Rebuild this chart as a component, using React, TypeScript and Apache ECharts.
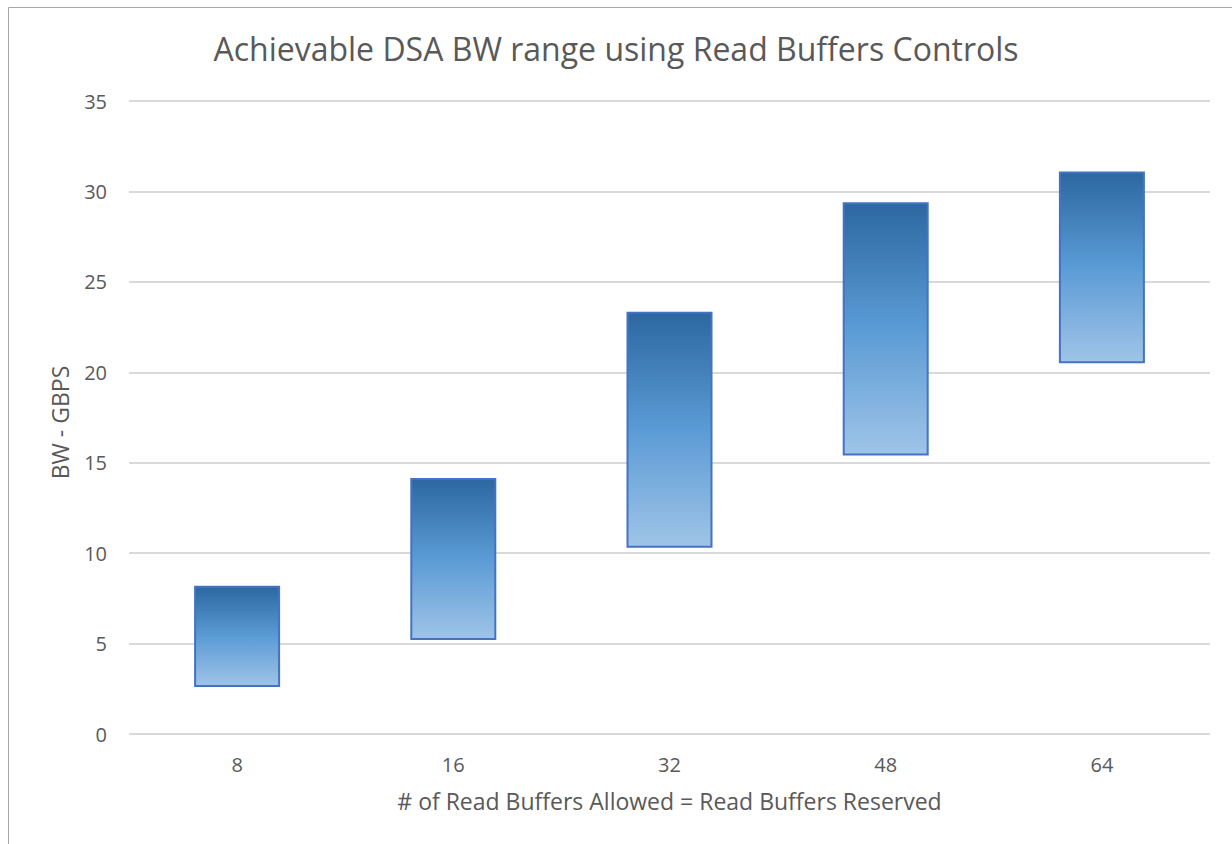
import React, { useEffect, useRef } from "react";
import * as echarts from "echarts";

const categories = ["8", "16", "32", "48", "64"];
const lowValues = [2.6, 5.2, 10.3, 15.4, 20.5];
const highValues = [8.2, 14.15, 23.35, 29.4, 31.1];
const yTicks = { min: 0, max: 35, interval: 5 };

const FONT = "'Open Sans', sans-serif";
const TEXT = "#595959";

export default function App() {
  const ref = useRef<HTMLDivElement>(null);
  useEffect(() => {
    if (!ref.current) return;
    const chart = echarts.init(ref.current, undefined, { renderer: "svg" });
    const spans = highValues.map((h, i) => +(h - lowValues[i]).toFixed(2));
    chart.setOption({
      animation: false,
      backgroundColor: "#ffffff",
      title: {
        text: "Achievable DSA BW range using Read Buffers Controls",
        left: "center",
        top: 27,
        textStyle: { fontFamily: FONT, fontSize: 32, fontWeight: "normal", color: TEXT },
      },
      graphic: [
        {
          type: "rect",
          shape: { x: 8.5, y: 7.5, width: 1240, height: 860 },
          style: { fill: "none", stroke: "#a6a6a6", lineWidth: 1 },
          silent: true,
        },
      ],
      grid: { left: 129, right: 22, top: 101, bottom: 110, containLabel: false },
      xAxis: {
        type: "category",
        data: categories,
        axisLine: { show: false },
        axisTick: { show: false },
        axisLabel: { fontFamily: FONT, fontSize: 20, color: TEXT, margin: 20 },
        name: "# of Read Buffers Allowed = Read Buffers Reserved",
        nameLocation: "middle",
        nameGap: 55,
        nameTextStyle: { fontFamily: FONT, fontSize: 23, color: TEXT },
      },
      yAxis: {
        type: "value",
        min: yTicks.min,
        max: yTicks.max,
        interval: yTicks.interval,
        axisLine: { show: false },
        axisTick: { show: false },
        splitLine: { lineStyle: { color: "#d9d9d9", width: 2 } },
        axisLabel: { fontFamily: FONT, fontSize: 20, color: TEXT, margin: 22 },
        name: "BW - GBPS",
        nameLocation: "middle",
        nameGap: 58,
        nameRotate: 90,
        nameTextStyle: { fontFamily: FONT, fontSize: 23, color: TEXT, padding: [0, 10, 0, 0] },
      },
      series: [
        {
          type: "bar",
          stack: "range",
          data: lowValues,
          itemStyle: { color: "transparent" },
          silent: true,
          barWidth: 86,
        },
        {
          type: "bar",
          stack: "range",
          data: spans,
          barWidth: 86,
          itemStyle: {
            borderColor: "#4472c4",
            borderWidth: 2,
            color: new echarts.graphic.LinearGradient(0, 0, 0, 1, [
              { offset: 0, color: "#2c67a0" },
              { offset: 0.5, color: "#5b9bd5" },
              { offset: 1, color: "#9fc4e7" },
            ]),
          },
        },
      ],
    });
    return () => chart.dispose();
  }, []);
  return (
    <div
      ref={ref}
      style={{ position: "fixed", left: 0, top: 0, width: 1232, height: 844 }}
    />
  );
}
